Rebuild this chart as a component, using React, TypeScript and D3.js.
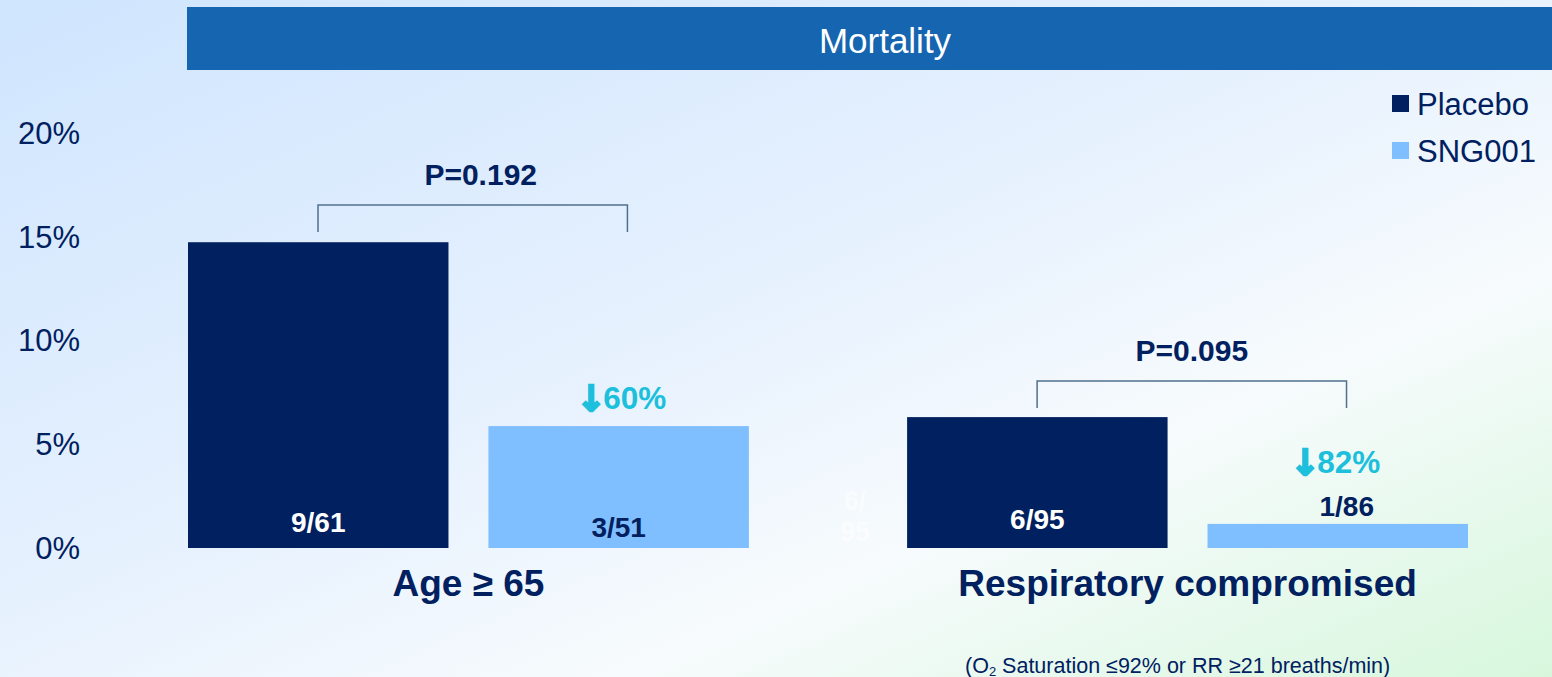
import React from "react";
import * as d3 from "d3";

const categories = ["Age ≥ 65", "Respiratory compromised"];
const series = ["Placebo", "SNG001"];
const placeboValues = [9 / 61 * 100, 6 / 95 * 100];
const sngValues = [3 / 51 * 100, 1 / 86 * 100];
const placeboLabels = ["9/61", "6/95"];
const sngLabels = ["3/51", "1/86"];
const pValues = ["P=0.192", "P=0.095"];
const reductions = ["60%", "82%"];
const yTicks = [0, 5, 10, 15, 20];

const W = 1552;
const H = 677;
const NAVY = "#002060";
const LIGHT = "#80bfff";
const CYAN = "#1cbfdc";
const FONT = "'Liberation Sans', Arial, sans-serif";

export default function App() {
  const y = d3.scaleLinear().domain([0, 20]).range([548, 133.5]);
  const x0 = d3.scaleBand<string>().domain(categories).range([188, 1468]).paddingInner(0.22).paddingOuter(0);
  const x1 = d3.scaleBand<string>().domain(series).range([0, x0.bandwidth()]).paddingInner(0.133);
  const bw = x1.bandwidth();
  const colors = [NAVY, LIGHT];

  return (
    <svg width={W} height={H} style={{ position: "absolute", left: 0, top: 0, display: "block" }} fontFamily={FONT}>
      <defs>
        <linearGradient id="bg" x1="0" y1="0" x2="1" y2="1" gradientUnits="objectBoundingBox">
          <stop offset="0" stopColor="#cfe5fe" />
          <stop offset="0.45" stopColor="#e6f1fe" />
          <stop offset="0.7" stopColor="#f7fbfd" />
          <stop offset="1" stopColor="#d7f7dc" />
        </linearGradient>
      </defs>
      <rect x={0} y={0} width={W} height={H} fill="url(#bg)" />
      {/* title bar */}
      <rect x={187} y={7} width={W - 187} height={63} fill="#1565b0" />
      <text x={885} y={40} fill="#ffffff" fontSize={35} textAnchor="middle" dominantBaseline="central">Mortality</text>

      {/* y axis labels */}
      {yTicks.map((t) => (
        <text key={t} x={80} y={y(t)} fontSize={31} fill={NAVY} textAnchor="end" dominantBaseline="central">{`${t}%`}</text>
      ))}

      {/* ghost label */}
      <text x={855} y={501} fontSize={27} fontWeight="bold" fill="#ffffff" opacity={0.55} textAnchor="middle" dominantBaseline="central">6/</text>
      <text x={855} y={532} fontSize={27} fontWeight="bold" fill="#ffffff" opacity={0.55} textAnchor="middle" dominantBaseline="central">95</text>

      {categories.map((c, i) => {
        const gx = x0(c)!;
        const px = gx + x1("Placebo")!;
        const sx = gx + x1("SNG001")!;
        const pv = placeboValues[i];
        const sv = sngValues[i];
        const pc = px + bw / 2;
        const sc = sx + bw / 2;
        const bx0 = px + 130;
        const bx1 = sx + 139;
        const brTop = i === 0 ? 205 : 381;
        const brBot = brTop + 27;
        const sTop = y(sv);
        const sngInside = sTop < 500;
        return (
          <g key={c}>
            <rect x={px} y={y(pv)} width={bw} height={y(0) - y(pv)} fill={colors[0]} />
            <rect x={sx} y={y(sv)} width={bw} height={y(0) - y(sv)} fill={colors[1]} />
            <text x={pc} y={i === 0 ? 522 : 519} fontSize={28} fontWeight="bold" fill="#ffffff" textAnchor="middle" dominantBaseline="central">{placeboLabels[i]}</text>
            <text x={sngInside ? sc : sc + 9} y={sngInside ? 527 : sTop - 17} fontSize={28} fontWeight="bold" fill={NAVY} textAnchor="middle" dominantBaseline="central">{sngLabels[i]}</text>
            {/* bracket */}
            <path d={`M${bx0},${brBot}V${brTop}H${bx1}V${brBot}`} fill="none" stroke="#50708f" strokeWidth={1.5} />
            <text x={(bx0 + bx1) / 2 + (i === 0 ? 8 : 0)} y={brTop - 31} fontSize={30} fontWeight="bold" fill={NAVY} textAnchor="middle" dominantBaseline="central">{pValues[i]}</text>
            {/* reduction */}
            <text x={i === 0 ? 576 : 1290} y={i === 0 ? 398 : 462} fontSize={31.5} fontWeight="bold" fill={CYAN} dominantBaseline="central">
              <tspan fontFamily="'DejaVu Sans', sans-serif" fontWeight="bold" fontSize={36} stroke={CYAN} strokeWidth={2}>↓</tspan>
              <tspan dx={-3}>{reductions[i]}</tspan>
            </text>
            {/* category label */}
            <text x={(px + sx + bw) / 2} y={583} fontSize={37} fontWeight="bold" fill={NAVY} textAnchor="middle" dominantBaseline="central">{c}</text>
          </g>
        );
      })}

      {/* legend */}
      {series.map((s, i) => (
        <g key={s} transform={`translate(1392, ${95 + i * 47})`}>
          <rect x={0} y={0} width={17} height={17} fill={colors[i]} />
          <text x={25} y={9} fontSize={31} fill={NAVY} dominantBaseline="central">{s}</text>
        </g>
      ))}

      {/* footnote */}
      <text x={965} y={666} fontSize={21.5} fill={NAVY} dominantBaseline="central">
        (O<tspan fontSize={13} dy={5}>2</tspan><tspan dy={-5}> Saturation ≤92% or RR ≥21 breaths/min)</tspan>
      </text>
    </svg>
  );
}
